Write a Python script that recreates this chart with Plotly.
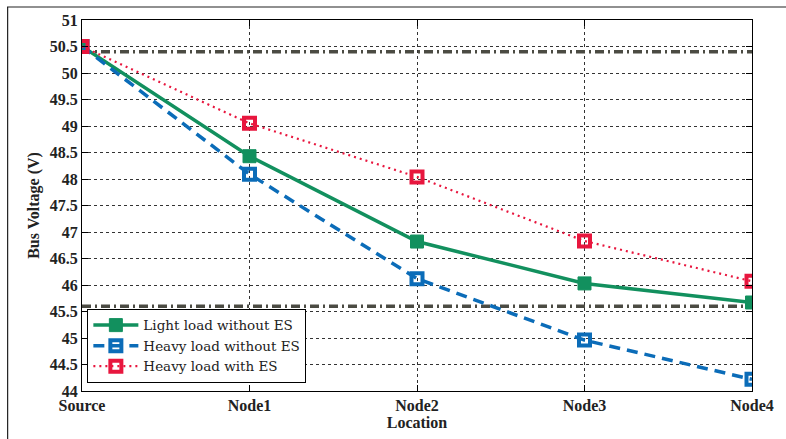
import plotly.graph_objects as go

# Bus locations along the feeder
locations = ["Source", "Node1", "Node2", "Node3", "Node4"]

# Bus voltages (V) for each operating case
light_no_es = [50.50, 48.43, 46.82, 46.03, 45.67]
heavy_no_es = [50.50, 48.09, 46.12, 44.96, 44.22]
heavy_with_es = [50.50, 49.05, 48.04, 46.83, 46.07]

# Allowed voltage band (48 V +/- 5 %)
v_upper = 50.4
v_lower = 45.6

y_ticks = [44 + 0.5 * i for i in range(15)]

SERIF = "Liberation Serif"
LEGEND_SERIF = "DejaVu Serif"
GREEN = "#12905e"
BLUE = "#0b6cb8"
RED = "#e8163e"
BAND = "#4b4b43"

fig = go.Figure()

# Voltage limit lines spanning the whole category range
for v in (v_upper, v_lower):
    fig.add_trace(go.Scatter(
        x=[locations[0], locations[-1]], y=[v, v], mode="lines",
        line=dict(color=BAND, width=3.5, dash="9px,4px,2px,4px"),
        showlegend=False, hoverinfo="skip",
    ))

fig.add_trace(go.Scatter(
    x=locations, y=light_no_es, mode="lines+markers",
    name="Light load without ES",
    line=dict(color=GREEN, width=3.5),
    marker=dict(symbol="square", size=13, color=GREEN,
                line=dict(color=GREEN, width=1)),
))
fig.add_trace(go.Scatter(
    x=locations, y=heavy_no_es, mode="lines+markers",
    name="Heavy load without ES",
    line=dict(color=BLUE, width=3.5, dash="11px,7px"),
    marker=dict(symbol="square-open", size=11, color=BLUE,
                line=dict(color=BLUE, width=4)),
))
fig.add_trace(go.Scatter(
    x=locations, y=heavy_with_es, mode="lines+markers",
    name="Heavy load with ES",
    line=dict(color=RED, width=2.2, dash="2px,4px"),
    marker=dict(symbol="square-open", size=11, color=RED,
                line=dict(color=RED, width=4)),
))

fig.update_layout(
    width=786, height=439,
    margin=dict(l=82, r=28, t=18, b=48),
    paper_bgcolor="white", plot_bgcolor="white",
    font=dict(family=SERIF, color="black"),
    legend=dict(
        x=0.008, y=0.022, xanchor="left", yanchor="bottom",
        bgcolor="white", bordercolor="black", borderwidth=1,
        font=dict(family=LEGEND_SERIF, size=13.5, color="#222222"),
        tracegroupgap=0, itemwidth=45,
    ),
    shapes=[dict(
        type="rect", xref="paper", yref="paper",
        x0=-0.111, x1=1.2, y0=-0.3, y1=1.035,
        line=dict(color="#222222", width=1.2), fillcolor="rgba(0,0,0,0)",
        layer="below",
    )],
)

fig.update_xaxes(
    type="category", categoryorder="array", categoryarray=locations,
    range=[0, 4],
    showline=True, linecolor="black", linewidth=1, mirror="ticks",
    ticks="inside", ticklen=6, tickcolor="black",
    showgrid=True, gridcolor="#333333", gridwidth=1, griddash="dot",
    tickfont=dict(family=SERIF, size=16, color="#222222", weight="bold"),
    title=dict(text="<b>Location</b>", standoff=2,
               font=dict(family=SERIF, size=16, color="#222222")),
    zeroline=False,
)
fig.update_yaxes(
    range=[44, 51], tickvals=y_ticks,
    ticktext=[f"{t:g}" for t in y_ticks],
    showline=True, linecolor="black", linewidth=1, mirror="ticks",
    ticks="inside", ticklen=6, tickcolor="black",
    showgrid=True, gridcolor="#333333", gridwidth=1, griddash="dot",
    tickfont=dict(family=SERIF, size=16, color="#222222", weight="bold"),
    title=dict(text="<b>Bus Voltage (V)</b>", standoff=6,
               font=dict(family=SERIF, size=16, color="#222222")),
    zeroline=False,
)

fig.write_html("out.html")
